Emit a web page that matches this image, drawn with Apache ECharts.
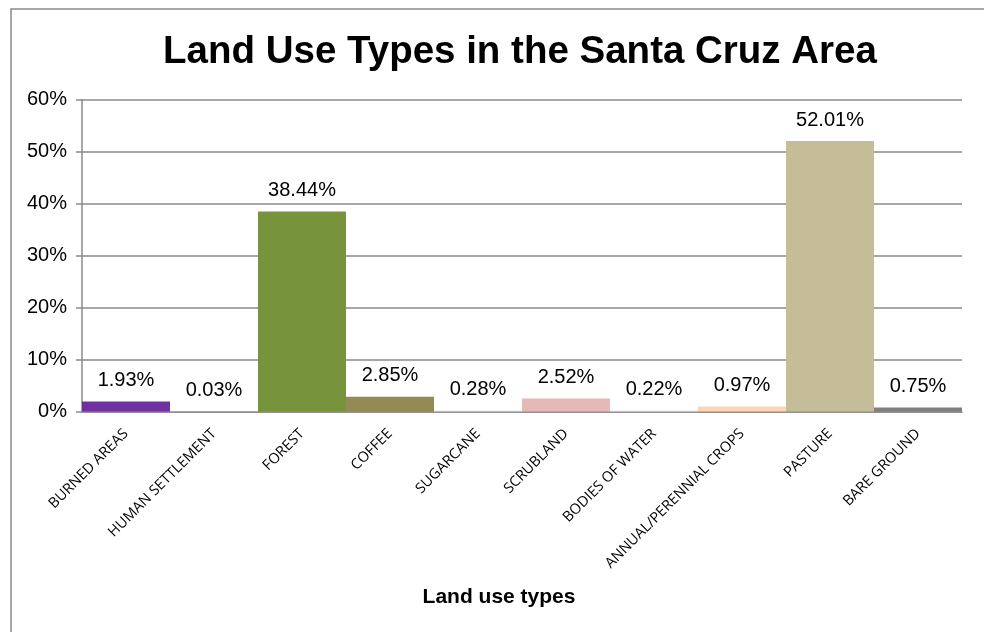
<!DOCTYPE html>
<html>
<head>
<meta charset="utf-8">
<script src="https://cdn.jsdelivr.net/npm/echarts@6/dist/echarts.min.js"></script>
<style>
html,body{margin:0;padding:0;background:#fff;}
#land_use{width:984px;height:632px;}
</style>
</head>
<body>
<div id="land_use"></div>
<script>
var categories = ['BURNED AREAS', 'HUMAN SETTLEMENT', 'FOREST', 'COFFEE', 'SUGARCANE',
    'SCRUBLAND', 'BODIES OF WATER', 'ANNUAL/PERENNIAL CROPS', 'PASTURE', 'BARE GROUND'];
var shares = [1.93, 0.03, 38.44, 2.85, 0.28, 2.52, 0.22, 0.97, 52.01, 0.75];
var barColors = ['#7030a0', '#dbe5f1', '#77933c', '#948a54', '#f2f2f2',
    '#e6b9b8', '#f2f2f2', '#fcd5b5', '#c4bd97', '#7f7f7f'];
var yTicks = [0, 60, 10]; // min, max, step

/** bar chart option **/
function getLandUseOption() {
    var seriesData = [];
    for (var i = 0; i < shares.length; i++) {
        seriesData.push({value: shares[i], itemStyle: {color: barColors[i]}});
    }
    return {
        animation: false,
        title: {
            text: 'Land Use Types in the Santa Cruz Area',
            left: 515,
            textAlign: 'center',
            top: 28,
            textStyle: {
                fontFamily: 'Liberation Sans',
                fontWeight: 'bold',
                fontSize: 38.5,
                color: '#000'
            }
        },
        graphic: [{
            type: 'rect',
            shape: {x: 11, y: 9, width: 1100, height: 800},
            style: {fill: 'none', stroke: '#8a8a8a', lineWidth: 1.5},
            silent: true
        }, {
            type: 'text',
            x: 499,
            y: 597,
            style: {
                text: 'Land use types',
                align: 'center',
                verticalAlign: 'middle',
                font: 'bold 21px "Liberation Sans"',
                fill: '#000'
            },
            silent: true
        }],
        grid: {
            left: 82,
            right: 22,
            top: 99.5,
            bottom: 220.5
        },
        xAxis: {
            type: 'category',
            data: categories,
            axisLine: {lineStyle: {color: '#8a8a8a', width: 1.5}},
            axisTick: {length: 6, lineStyle: {color: '#8a8a8a', width: 1.5}},
            axisLabel: {
                rotate: 45,
                interval: 0,
                margin: 20,
                fontFamily: 'Open Sans',
                fontSize: 14.5,
                color: '#000'
            }
        },
        yAxis: {
            type: 'value',
            min: yTicks[0],
            max: yTicks[1],
            interval: yTicks[2],
            axisLine: {show: true, lineStyle: {color: '#8a8a8a', width: 1.5}},
            axisTick: {show: true, length: 6, lineStyle: {color: '#8a8a8a', width: 1.5}},
            splitLine: {lineStyle: {color: '#8a8a8a', width: 1.5}},
            axisLabel: {
                formatter: '{value}%',
                margin: 15,
                fontFamily: 'Liberation Sans',
                fontSize: 20,
                color: '#000'
            }
        },
        series: [{
            type: 'bar',
            data: seriesData,
            barCategoryGap: '0%',
            label: {
                show: true,
                position: 'top',
                distance: 11,
                formatter: function (p) { return p.value.toFixed(2) + '%'; },
                fontFamily: 'Liberation Sans',
                fontSize: 20,
                color: '#000'
            }
        }]
    };
}

var myEcharts = echarts.init(document.getElementById('land_use'));
myEcharts.setOption(getLandUseOption());
</script>
</body>
</html>
